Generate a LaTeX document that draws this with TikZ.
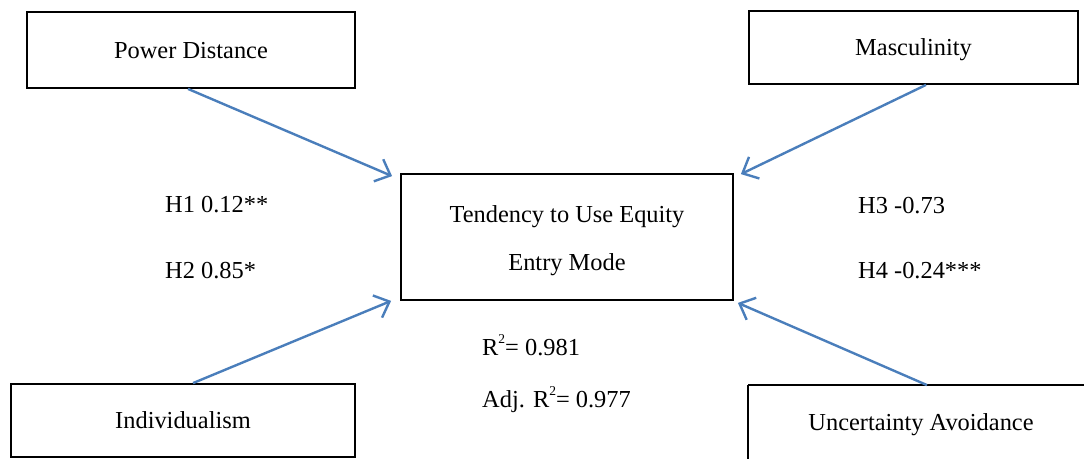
\documentclass[tikz,border=0pt]{standalone}
\usepackage{fontspec}
\setmainfont{Liberation Serif}
\usetikzlibrary{arrows.meta,calc}

\definecolor{pathblue}{RGB}{74,126,187}

\tikzset{
  frame/.style={draw=black, line width=1.8pt},
  factor/.style={frame, rectangle, inner sep=0pt,
    text height=20pt, text depth=4pt},
  effect/.style={draw=pathblue, line width=2.4pt,
    -{Straight Barb[length=13pt, width=24pt, line width=2.4pt]}},
  stat/.style={anchor=base west, inner sep=0pt},
  caption/.style={anchor=base, inner sep=0pt},
}

\newcommand{\sqsup}{\raisebox{12pt}{\fontsize{13.5}{12}\selectfont 2}}

\begin{document}
\begin{tikzpicture}[x=1pt, y=-1pt, font=\fontsize{24.4}{29}\selectfont]
  % the page is exactly this area; later paths do not enlarge it
  \useasboundingbox (0,0) rectangle (1084,458);
  \clip (0,0) rectangle (1084,458);

  % predictor boxes
  \node[factor, minimum width=328pt, minimum height=76pt] (pd) at (191,50) {Power Distance};
  \node[factor, minimum width=329pt, minimum height=73pt] (ma) at (913.5,47.5) {Masculinity};
  \node[factor, minimum width=344pt, minimum height=73pt] (in) at (183,420.5) {Individualism};
  % this box runs past the right and bottom edges of the page
  \node[factor, draw=none, minimum width=344pt, minimum height=73pt] (ua) at (921,422.5) {Uncertainty Avoidance};
  \draw[frame] (ua.north west) -- ($(ua.north east)+(40,0)$)
               (ua.north west) -- ($(ua.south west)+(0,40)$);

  % outcome box and its two-line caption
  \node[frame, inner sep=0pt,
        minimum width=332pt, minimum height=126pt] (eq) at (567,237) {};
  \node[caption] (eq1) at ($(eq.center)+(0,-15)$) {Tendency to Use Equity};
  \node[caption] (eq2) at ($(eq.center)+(0,33)$) {Entry Mode};

  % arrow tips next to the outcome box corners
  \coordinate (t1) at ($(eq.north west)+(-8,3)$);
  \coordinate (t2) at ($(eq.north east)+(7,1)$);
  \coordinate (t3) at ($(eq.south west)+(-9,0)$);
  \coordinate (t4) at ($(eq.south east)+(4,2)$);

  \draw[effect] ($(pd.south)+(-3,0)$) -- (t1);
  \draw[effect] ($(ma.south)+(12.5,0)$) -- (t2);
  \draw[effect] ($(in.north)+(10,0)$) -- (t3);
  \draw[effect] ($(ua.north)+(6,0)$) -- (t4);

  % path coefficients
  \node[stat] (h1) at (165,212) {H1 0.12**};
  \node[stat] (h2) at (165,278) {H2 0.85*};
  \node[stat] (h3) at (858,213) {H3 -0.73};
  \node[stat] (h4) at (858,278) {H4 -0.24***};

  % model fit
  \node[stat] (r2) at (482,355) {R\sqsup= 0.981};
  \node[stat] (ar2) at (482,407) {Adj. R\sqsup= 0.977};
\end{tikzpicture}
\end{document}
